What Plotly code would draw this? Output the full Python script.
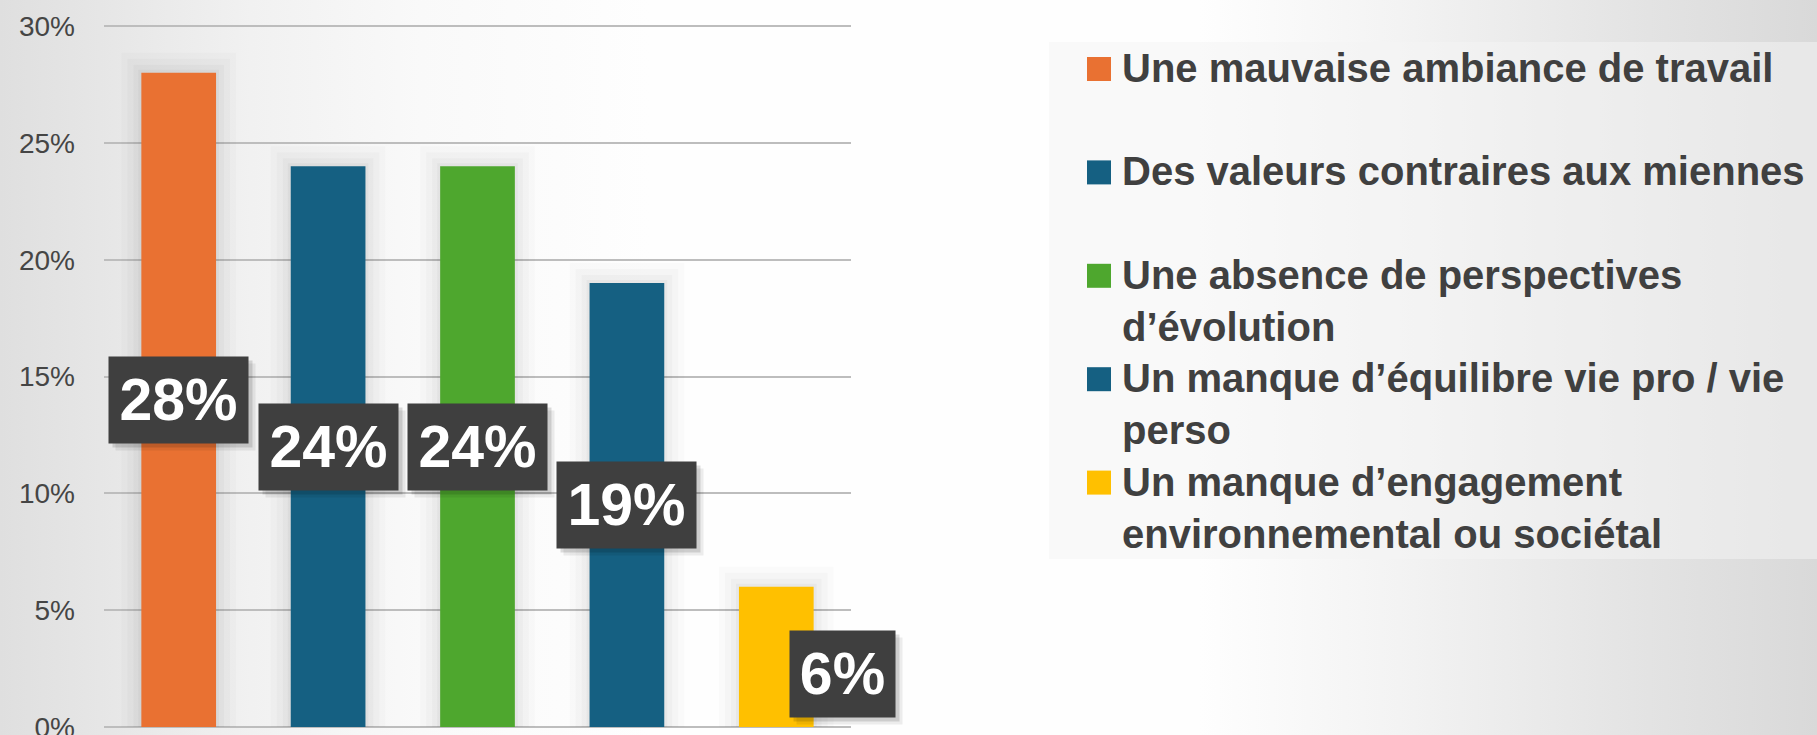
import base64
import plotly.graph_objects as go

# ---------------- data ----------------
categories = [
    "Une mauvaise ambiance de travail",
    "Des valeurs contraires aux miennes",
    "Une absence de perspectives d’évolution",
    "Un manque d’équilibre vie pro / vie perso",
    "Un manque d’engagement environnemental ou sociétal",
]
values = [28, 24, 24, 19, 6]
value_labels = ["28%", "24%", "24%", "19%", "6%"]
legend_lines = [
    ["Une mauvaise ambiance de travail"],
    ["Des valeurs contraires aux miennes"],
    ["Une absence de perspectives", "d’évolution"],
    ["Un manque d’équilibre vie pro / vie", "perso"],
    ["Un manque d’engagement", "environnemental ou sociétal"],
]
colors = ["#E97132", "#156082", "#4EA72E", "#156082", "#FFC000"]
y_ticks = [0, 5, 10, 15, 20, 25, 30]
y_tick_text = ["0%", "5%", "10%", "15%", "20%", "25%", "30%"]

# ---------------- layout geometry (pixels) ----------------
W, H = 1817, 735
L, R, T, B = 104, 851, 25, 727
Y_MAX = 30.045  # tiny headroom so the 30% gridline is drawn


def px(x):
    return (x - L) / (R - L)


def py(y):
    return (B - y) / (B - T)


# background gradient as an SVG image
stops = [
    (0.0, "#dfdfdf"), (0.055, "#e6e6e6"), (0.138, "#f1f1f1"), (0.231, "#f9f9f9"),
    (0.358, "#fefefe"), (0.66, "#fefefe"), (0.77, "#f3f3f3"), (0.88, "#e6e6e6"),
    (1.0, "#d9d9d9"),
]
stop_xml = "".join(f"<stop offset='{o}' stop-color='{c}'/>" for o, c in stops)
svg = (
    f"<svg xmlns='http://www.w3.org/2000/svg' width='{W}' height='{H}' viewBox='0 0 {W} {H}' "
    f"preserveAspectRatio='none'><defs><linearGradient id='g' x1='0' y1='0' x2='{W}' y2='0' "
    f"gradientUnits='userSpaceOnUse'>{stop_xml}</linearGradient></defs>"
    f"<rect width='{W}' height='{H}' fill='url(#g)'/></svg>"
)
bg_uri = "data:image/svg+xml;base64," + base64.b64encode(svg.encode()).decode()

fig = go.Figure()

# soft shadow halos around bars
for lw, a in [(40, 0.015), (28, 0.02), (16, 0.025), (6, 0.03)]:
    fig.add_trace(go.Bar(
        x=categories, y=values,
        marker=dict(color="rgba(0,0,0,0)", line=dict(color=f"rgba(0,0,0,{a})", width=lw)),
        hoverinfo="skip", showlegend=False,
    ))

fig.add_trace(go.Bar(
    x=categories, y=values,
    marker=dict(color=colors, line=dict(width=0)),
    showlegend=False,
    hovertemplate="%{x}: %{y}%<extra></extra>",
))

annotations = []
shapes = []

# value labels (dark boxes)
label_width = [139, 139, 139, 139, 105]
label_shift = [(0, 0), (0, 0), (0, 0), (0, 0), (66, -17)]
for cat, v, lab, w, (dx, dy) in zip(categories, values, value_labels, label_width, label_shift):
    for sx, sy, a in [(7, -7, 0.07), (4, -4, 0.13)]:
        annotations.append(dict(
            x=cat, y=v / 2, xref="x", yref="y", text=" ", showarrow=False,
            width=w, height=86, borderpad=0, bgcolor=f"rgba(0,0,0,{a})",
            xshift=dx + sx, yshift=dy + sy,
        ))
    annotations.append(dict(
        x=cat, y=v / 2, xref="x", yref="y", text=f"<b>{lab}</b>", showarrow=False,
        width=w, height=86, borderpad=0, bgcolor="#3f3f3f",
        font=dict(family="Liberation Sans, Arial", size=59, color="#ffffff"),
        xshift=dx, yshift=dy, align="center", valign="middle",
    ))

# custom legend
shapes.append(dict(
    type="rect", xref="paper", yref="paper",
    x0=px(1049), x1=px(1830), y0=py(559), y1=py(42),
    fillcolor="rgba(243,243,243,0.54)", line=dict(width=0), layer="below",
))
for i, (lines, col) in enumerate(zip(legend_lines, colors)):
    c = 69 + i * 103.4
    shapes.append(dict(
        type="rect", xref="paper", yref="paper",
        x0=px(1087), x1=px(1111), y0=py(c + 12), y1=py(c - 12),
        fillcolor=col, line=dict(width=0), layer="above",
    ))
    for j, line in enumerate(lines):
        annotations.append(dict(
            x=px(1120), y=py(c - 1 + j * 52), xref="paper", yref="paper",
            xanchor="left", yanchor="middle", showarrow=False,
            text=f"<b>{line}</b>",
            font=dict(family="Liberation Sans, Arial", size=40, color="#404040"),
        ))

fig.update_layout(
    width=W, height=H,
    margin=dict(l=L, r=W - R, t=T, b=H - B, pad=0),
    paper_bgcolor="#ffffff",
    plot_bgcolor="rgba(0,0,0,0)",
    barmode="overlay",
    bargap=0.5,
    showlegend=False,
    annotations=annotations,
    shapes=shapes,
    images=[dict(
        source=bg_uri, xref="paper", yref="paper",
        x=px(0), y=py(0), sizex=W / (R - L), sizey=H / (B - T),
        xanchor="left", yanchor="top", sizing="stretch", layer="below",
    )],
    xaxis=dict(
        showticklabels=False, showgrid=False, zeroline=False, showline=False,
        ticks="", automargin=False, range=[-0.5, 4.5],
    ),
    yaxis=dict(
        range=[0, Y_MAX], tickvals=y_ticks, ticktext=y_tick_text,
        showgrid=True, gridcolor="#bdbdbd", gridwidth=1.5,
        zeroline=True, zerolinecolor="#bdbdbd", zerolinewidth=1.5,
        showline=False, ticks="", automargin=False,
        ticklabelstandoff=28, ticklabeloverflow="allow",
        tickfont=dict(family="Liberation Sans, Arial", size=28, color="#454545"),
    ),
    font=dict(family="Liberation Sans, Arial"),
)

fig.write_html(
    "out.html",
    config={"displayModeBar": False},
    post_script="document.body.style.margin='0';document.body.style.overflow='hidden';",
)
